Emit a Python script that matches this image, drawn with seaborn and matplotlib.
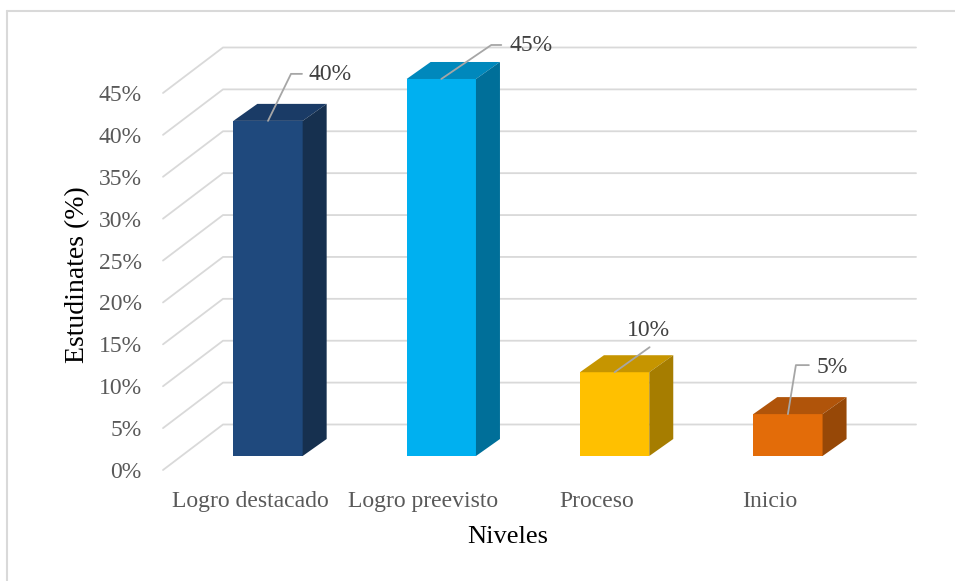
import matplotlib
matplotlib.use("Agg")
import matplotlib.pyplot as plt
from matplotlib.patches import Polygon
from matplotlib.lines import Line2D
import seaborn as sns
import pandas as pd

# ---- data ----
niveles = ["Logro destacado", "Logro preevisto", "Proceso", "Inicio"]
porcentajes = [40, 45, 10, 5]
ticks = [0, 5, 10, 15, 20, 25, 30, 35, 40, 45]
tick_labels = [f"{t}%" for t in ticks]
front_colors = ["#1F497D", "#00B0F0", "#FFC000", "#E36C09"]
top_colors = ["#1A3B66", "#0088BC", "#C69500", "#B0540A"]
side_colors = ["#16304F", "#006F99", "#A67D00", "#974807"]
# label leader offsets (pixels, y up) relative to bar top-front centre
leader_offsets = [[(23, 47), (34, 47)], [(50, 34), (60, 34)], [(35, 25)], [(8, 49), (21, 49)]]
text_offsets = [(40, 46, "left"), (68, 33, "left"), (34, 42, "center"), (29, 47, "left")]

df = pd.DataFrame({"Niveles": niveles, "Porcentaje": porcentajes})

sns.set_style("white")
plt.rcParams["font.family"] = ["Liberation Serif", "DejaVu Serif"]

W, H = 955, 581
fig = plt.figure(figsize=(W / 100, H / 100), dpi=100)
ax_l, ax_r, ax_t, ax_b = 150, 920, 34.34, 486.76
ax = fig.add_axes([ax_l / W, (H - ax_b) / H, (ax_r - ax_l) / W, (ax_b - ax_t) / H])

sns.barplot(data=df, x="Niveles", y="Porcentaje", hue="Niveles", palette=front_colors,
            width=0.4, saturation=1, legend=False, ax=ax, linewidth=0)

x0_cat = (ax_l - 250) / 173.3
x1_cat = (ax_r - 250) / 173.3
ax.set_xlim(x0_cat, x1_cat)
ax.set_ylim(-2, 52)
sx = (ax_r - ax_l) / (x1_cat - x0_cat)   # px per x unit
sy = (ax_b - ax_t) / 54.0                # px per y unit


def P(xd, yd, dx=0.0, dy=0.0):
    return (xd + dx / sx, yd + dy / sy)


grid_c = "#D9D9D9"
BX, BY = 18, 14      # bar plane offset (px)
DX, DY = 24, 17      # bar depth (px)
WX, WY = 60, 45.5    # back wall offset (px)

# perspective grid: diagonals + back wall lines
for t in ticks:
    a = P(-0.502, t)
    b = P(-0.502, t, WX, WY)
    c = P(3.497, t, WX, WY)
    ax.add_line(Line2D([a[0], b[0], c[0]], [a[1], b[1], c[1]], color=grid_c, lw=1.3,
                       zorder=0, clip_on=False))

# shift seaborn bars onto their depth plane and add 3D faces
for i, patch in enumerate(ax.patches):
    x = patch.get_x(); w = patch.get_width(); h = patch.get_height()
    nx, ny = P(x, 0, BX, BY)
    patch.set_x(nx); patch.set_y(ny)
    patch.set_zorder(3)
    xl, xr = nx, nx + w
    top_poly = [P(xl, ny + h), P(xr, ny + h), P(xr, ny + h, DX, DY), P(xl, ny + h, DX, DY)]
    side_poly = [P(xr, ny), P(xr, ny + h), P(xr, ny + h, DX, DY), P(xr, ny, DX, DY)]
    ax.add_patch(Polygon(top_poly, closed=True, facecolor=top_colors[i], edgecolor="none", zorder=3))
    ax.add_patch(Polygon(side_poly, closed=True, facecolor=side_colors[i], edgecolor="none", zorder=3))
    # data label with leader line
    anchor = (xl + w / 2, ny + h)
    pts = [anchor] + [P(anchor[0], anchor[1], ox, oy) for ox, oy in leader_offsets[i]]
    ax.add_line(Line2D([p[0] for p in pts], [p[1] for p in pts], color="#A6A6A6", lw=1.3,
                       zorder=4, clip_on=False))
    tx, ty, ha = text_offsets[i]
    tp = P(anchor[0], anchor[1], tx, ty)
    ax.text(tp[0], tp[1], f"{porcentajes[i]}%", ha=ha, va="center", fontsize=17,
            color="#404040", zorder=5)

ax.set_yticks(ticks)
ax.set_yticklabels(tick_labels)
for s in ax.spines.values():
    s.set_visible(False)
ax.tick_params(axis="y", length=0, pad=6, labelsize=17, labelcolor="#595959")
ax.tick_params(axis="x", length=0, pad=3, labelsize=17, labelcolor="#595959")
ax.set_xlabel("Niveles", fontsize=19, color="black")
ax.set_ylabel("Estudinates (%)", fontsize=20, color="black")
ax.xaxis.set_label_coords((508 - ax_l) / (ax_r - ax_l), (ax_b - 537) / (ax_b - ax_t))
ax.yaxis.set_label_coords((78 - ax_l) / (ax_r - ax_l), (ax_b - 275) / (ax_b - ax_t))
ax.xaxis.label.set_va("center")
ax.yaxis.label.set_va("center")
ax.grid(False)

# outer frame (top and left edges visible)
fig.add_artist(Line2D([7 / W, 1], [1 - 11 / H, 1 - 11 / H], color=grid_c, lw=1.5,
                      transform=fig.transFigure))
fig.add_artist(Line2D([7 / W, 7 / W], [1 - 11 / H, 0], color=grid_c, lw=1.5,
                      transform=fig.transFigure))

fig.savefig("out.png", dpi=100, facecolor="white")
